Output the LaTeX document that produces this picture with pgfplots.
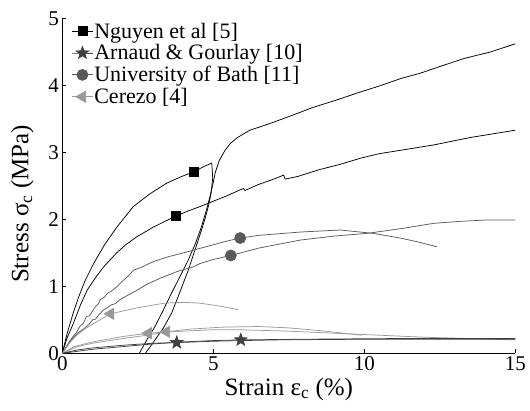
\documentclass[border=0pt]{standalone}
\usepackage{pgfplots}
\pgfplotsset{compat=1.18}
\usepackage{fontspec}
\setmainfont{Liberation Serif}

\definecolor{starc}{HTML}{404040}
\definecolor{bathc}{HTML}{5A5A5A}
\definecolor{cerc}{HTML}{999999}

% filled five-pointed star
\pgfdeclareplotmark{fstar}{%
  \pgfpathmoveto{\pgfpointpolar{90}{\pgfplotmarksize}}%
  \pgfpathlineto{\pgfpointpolar{126}{0.42\pgfplotmarksize}}%
  \pgfpathlineto{\pgfpointpolar{162}{\pgfplotmarksize}}%
  \pgfpathlineto{\pgfpointpolar{198}{0.42\pgfplotmarksize}}%
  \pgfpathlineto{\pgfpointpolar{234}{\pgfplotmarksize}}%
  \pgfpathlineto{\pgfpointpolar{270}{0.42\pgfplotmarksize}}%
  \pgfpathlineto{\pgfpointpolar{306}{\pgfplotmarksize}}%
  \pgfpathlineto{\pgfpointpolar{342}{0.42\pgfplotmarksize}}%
  \pgfpathlineto{\pgfpointpolar{18}{\pgfplotmarksize}}%
  \pgfpathlineto{\pgfpointpolar{54}{0.42\pgfplotmarksize}}%
  \pgfpathclose
  \pgfusepathqfillstroke}

\begin{document}
\begin{tikzpicture}
\useasboundingbox (-62.3pt,-56.7pt) rectangle (467.7pt,353.3pt);
\begin{axis}[
    at={(0,0)}, anchor=south west,
    scale only axis, width=453pt, height=335pt,
    xmin=0, xmax=15, ymin=0, ymax=5,
    axis x line*=bottom, axis y line*=left,
    xtick={0,5,10,15}, ytick={0,1,2,3,4,5},
    tick align=inside, major tick length=4pt,
    axis line style={line width=0.6pt},
    tick style={line width=0.6pt, black},
    /pgf/number format/assume math mode=true,
    tick label style={font=\fontsize{21}{24}\selectfont},
    xlabel={Strain ε\textsubscript{c} (\%)},
    ylabel={Stress σ\textsubscript{c} (MPa)},
    label style={font=\fontsize{25}{28}\selectfont},
    xlabel style={at={(axis description cs:0.5,-0.1245)}, anchor=base},
    ylabel style={at={(axis description cs:-0.075,0.4457)}, anchor=base},
    legend cell align=left,
    legend style={draw=none, fill=none,
        at={(axis description cs:0.02,0.99)}, anchor=north west,
        inner sep=0pt, row sep=3pt,
        nodes={inner sep=1pt, font=\fontsize{22}{24}\selectfont}},
    legend image code/.code={%
        \draw[#1, mark repeat=2, mark phase=2] plot coordinates {(0pt,0pt) (10.5pt,0pt) (21pt,0pt)};},
    every axis plot/.append style={line width=0.75pt},
    clip=true,
]
% legend
\addlegendimage{black, mark=square*, mark size=4.5pt}
\addlegendentry{Nguyen et al [5]}
\addlegendimage{starc, mark=fstar, mark size=6.5pt, mark options={fill=starc}}
\addlegendentry{Arnaud \& Gourlay [10]}
\addlegendimage{bathc, mark=*, mark size=5.5pt}
\addlegendentry{University of Bath [11]}
\addlegendimage{cerc, mark=triangle*, mark size=6.5pt, mark options={rotate=90}}
\addlegendentry{Cerezo [4]}

% Nguyen et al: loading and unloading
\addplot[black, forget plot] coordinates {
(0,0) (0.15,0.28) (0.36,0.6) (0.55,0.85) (0.75,1.08) (1.05,1.35) (1.4,1.62)
(1.8,1.88) (2.35,2.19) (2.9,2.38) (3.46,2.54) (3.9,2.63) (4.36,2.71) (4.7,2.79)
(4.95,2.84) (4.98,2.62) (4.93,2.4) (4.84,2.2) (4.72,2.0) (4.61,1.84) (4.4,1.55)
(4.17,1.24) (3.9,0.92) (3.62,0.6) (3.35,0.38) (3.07,0.2) (2.9,0.09) (2.75,0)};
% Nguyen et al: reloading
\addplot[black, forget plot] coordinates {
(2.55,0) (2.8,0.2) (3.07,0.4) (3.35,0.65) (3.62,0.9) (3.9,1.15) (4.17,1.39)
(4.4,1.63) (4.61,1.89) (4.78,2.15) (4.89,2.34) (5.0,2.55) (5.06,2.69) (5.2,2.88)
(5.39,3.03) (5.56,3.13) (5.8,3.22) (6.21,3.33) (6.55,3.38) (7.0,3.45) (7.66,3.56)
(8.3,3.67) (9.08,3.78) (9.8,3.89) (10.5,3.99) (11.2,4.1) (11.85,4.18) (12.5,4.28)
(13.3,4.4) (14.2,4.5) (15,4.62)};
% Nguyen et al: second test
\addplot[black, forget plot] coordinates {
(0,0) (0.15,0.22) (0.37,0.45) (0.6,0.72) (0.82,0.94) (1.1,1.13) (1.37,1.29)
(1.8,1.5) (2.1,1.62) (2.47,1.74) (3.0,1.88) (3.4,1.97) (3.77,2.05) (4.2,2.13)
(4.56,2.19) (5.0,2.27) (5.5,2.36) (5.89,2.44) (6.0,2.46) (6.05,2.43) (6.5,2.52)
(7.0,2.6) (7.33,2.66) (7.38,2.6) (7.8,2.64) (8.5,2.74) (9.2,2.82) (9.86,2.91)
(10.5,2.98) (11.2,3.03) (12.3,3.11) (13.5,3.22) (15,3.33)};
\addplot[black, only marks, mark=square*, mark size=4.5pt, forget plot]
    coordinates {(4.36,2.71) (3.77,2.05)};

% University of Bath
\addplot[bathc, forget plot] coordinates {
(0,0) (0.2,0.15) (0.35,0.25) (0.45,0.3) (0.58,0.4) (0.7,0.45) (0.8,0.55)
(0.9,0.56) (1.03,0.65) (1.1,0.7) (1.2,0.74) (1.25,0.8) (1.4,0.84) (1.5,0.9)
(1.6,0.92) (1.8,0.99) (2.0,1.08) (2.2,1.16) (2.36,1.24) (2.6,1.28) (3.02,1.37)
(3.5,1.44) (4.18,1.52) (5.0,1.62) (5.5,1.68) (5.89,1.72) (6.5,1.76) (7.88,1.81)
(9.2,1.84) (10.3,1.79) (11.19,1.72) (11.8,1.66) (12.4,1.59)};
\addplot[bathc, forget plot] coordinates {
(0,0) (0.3,0.2) (0.5,0.3) (0.7,0.36) (0.92,0.45) (1.0,0.5) (1.1,0.51)
(1.2,0.57) (1.37,0.65) (1.5,0.68) (1.6,0.72) (1.75,0.74) (1.91,0.8) (2.1,0.85)
(2.47,0.94) (2.8,1.03) (3.24,1.12) (3.8,1.22) (4.34,1.29) (4.56,1.34) (5.0,1.4)
(5.58,1.46) (6.5,1.57) (7.88,1.69) (9.0,1.75) (10.09,1.79) (11.2,1.86)
(12.3,1.94) (13.2,1.97) (14.05,1.99) (15,1.99)};
\addplot[bathc, only marks, mark=*, mark size=5.5pt, forget plot]
    coordinates {(5.89,1.72) (5.58,1.46)};

% Cerezo
\addplot[cerc, forget plot] coordinates {
(0,0) (0.25,0.16) (0.5,0.28) (0.8,0.38) (1.1,0.46) (1.6,0.59) (2.0,0.63)
(2.5,0.68) (3.0,0.72) (3.41,0.75) (4.0,0.76) (4.52,0.75) (5.0,0.72) (5.4,0.69)
(5.83,0.65)};
\addplot[cerc, forget plot] coordinates {
(0,0) (0.4,0.1) (1.0,0.17) (1.5,0.21) (2.0,0.25) (2.85,0.3) (3.5,0.32)
(4.9,0.35) (6,0.35) (7.5,0.33) (9,0.3) (10.5,0.27) (12,0.24) (13.5,0.22) (15,0.2)};
\addplot[cerc, forget plot] coordinates {
(0,0) (0.5,0.1) (1.0,0.15) (2.0,0.22) (2.8,0.27) (3.45,0.32) (4.2,0.36)
(5.28,0.39) (6.5,0.4) (7.48,0.38) (8.5,0.34) (9.3,0.3) (9.91,0.27)};
\addplot[cerc, only marks, mark=triangle*, mark size=6.5pt, mark options={rotate=90}, forget plot]
    coordinates {(1.6,0.59) (2.85,0.3) (3.45,0.32)};

% Arnaud & Gourlay
\addplot[starc, forget plot] coordinates {
(0,0) (0.5,0.05) (1,0.08) (2,0.12) (3,0.15) (3.79,0.16) (5,0.18) (7,0.2)
(10,0.21) (12.5,0.21) (15,0.21)};
\addplot[starc, forget plot] coordinates {
(0,0) (1,0.06) (2,0.1) (3,0.14) (4,0.17) (5,0.19) (5.91,0.2) (8,0.21)
(11,0.22) (15,0.22)};
\addplot[starc, only marks, mark=fstar, mark size=6.5pt, mark options={fill=starc}, forget plot]
    coordinates {(3.79,0.16) (5.91,0.2)};
\end{axis}
\end{tikzpicture}
\end{document}
